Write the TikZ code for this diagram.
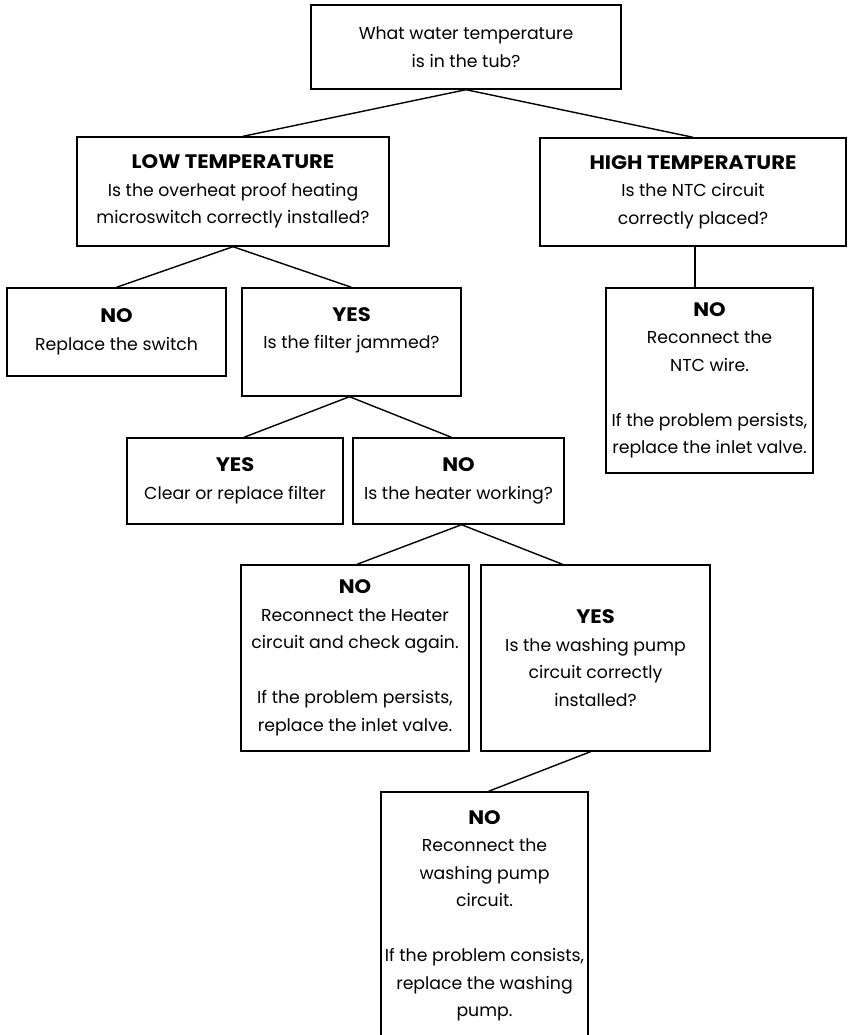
\documentclass[tikz,border=0pt]{standalone}
\usepackage{fontspec}
\setmainfont{Poppins}
\newfontfamily\hdfont{Poppins}[FakeStretch=1.08]
\newcommand\hd[1]{{\hdfont\bfseries\fontsize{19.5}{27.5}\selectfont #1}}
\begin{document}
\begin{tikzpicture}[x=1pt,y=-1pt,line width=1.4pt,
  box/.style={draw,align=center,inner sep=0pt,font=\fontsize{17.3}{27.5}\selectfont}]
	  \path[use as bounding box,clip] (0,0) rectangle (847,1035);
	  \node[box,minimum width=310,minimum height=84] (top) at (466,47) {What water temperature\\is in the tub?};
	  \node[box,minimum width=312,minimum height=109] (low) at (233,191.5) {\hd{LOW TEMPERATURE}\\Is the overheat proof heating\\microswitch correctly installed?};
	  \node[box,minimum width=306,minimum height=108] (high) at (693,192) {\hd{HIGH TEMPERATURE}\\Is the NTC circuit\\correctly placed?};
	  \node[box,minimum width=219,minimum height=88] (nosw) at (116.5,332) {\hd{NO}\\Replace the switch};
	  \node[box,minimum width=219,minimum height=108] (yesfil) at (351.5,342) {\hd{YES}\\Is the filter jammed?\\~};
	  \node[box,minimum width=207,minimum height=185] (ntc) at (709.5,380.5) {\hd{NO}\\Reconnect the\\NTC wire.\\~\\If the problem persists,\\replace the inlet valve.};
	  \node[box,minimum width=216,minimum height=86] (clear) at (235,481) {\hd{YES}\\Clear or replace filter};
	  \node[box,minimum width=211,minimum height=86] (heat) at (458.5,481) {\hd{NO}\\Is the heater working?};
	  \node[box,minimum width=228,minimum height=186] (reheat) at (355,658) {\hd{NO}\\Reconnect the Heater\\circuit and check again.\\~\\If the problem persists,\\replace the inlet valve.};
	  \node[box,minimum width=229,minimum height=186] (pump) at (595.5,658) {\hd{YES}\\Is the washing pump\\circuit correctly\\installed?};
	  \node[box,minimum width=207,minimum height=248] (repump) at (484.5,916) {\hd{NO}\\Reconnect the\\washing pump\\circuit.\\~\\If the problem consists,\\replace the washing\\pump.};
	  \draw (top.south) -- ([xshift=10]low.north);
	  \draw (top.south) -- (high.north);
	  \draw (low.south) -- (nosw.north);
	  \draw (low.south) -- (yesfil.north);
	  \draw ([xshift=2]high.south) -- ([xshift=2]high.south |- ntc.north);
	  \draw ([xshift=-2]yesfil.south) -- ([xshift=9]clear.north);
	  \draw ([xshift=-2]yesfil.south) -- ([xshift=-7]heat.north);
	  \draw ([xshift=3]heat.south) -- ([xshift=2]reheat.north);
	  \draw ([xshift=3]heat.south) -- ([xshift=-33]pump.north);
	  \draw ([xshift=-5]pump.south) -- ([xshift=4]repump.north);
	\end{tikzpicture}
\end{document}
